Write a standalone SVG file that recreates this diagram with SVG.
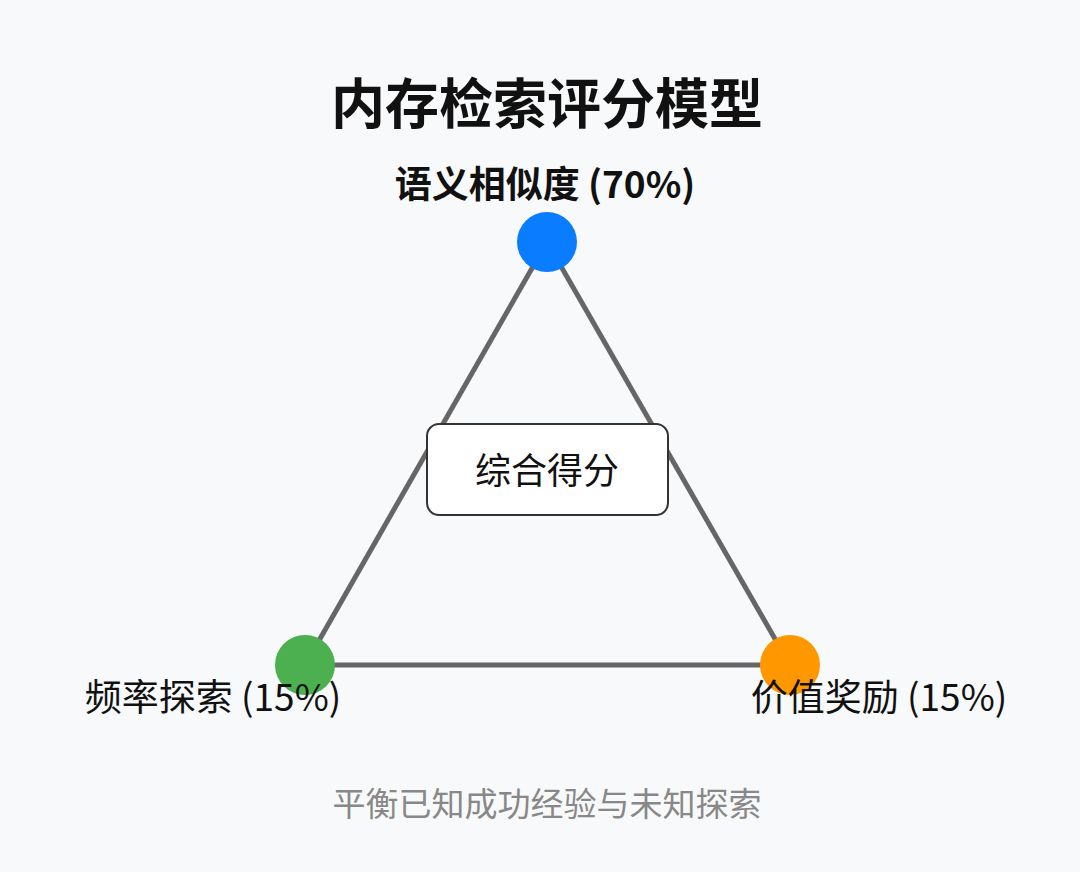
<svg xmlns="http://www.w3.org/2000/svg" width="1080" height="872" viewBox="0 0 1080 872">
  <style>
    .t { font-family: "Noto Sans CJK SC", "Noto Sans", sans-serif; text-anchor: middle; fill: #111; }
    .edge { stroke: #666; stroke-width: 5; fill: none; }
  </style>
  <rect width="1080" height="872" fill="#f8f9fa"/>
  <text class="t" x="547" y="124" font-size="54" font-weight="bold">内存检索评分模型</text>
  <g id="connectors">
    <line class="edge" x1="547" y1="242" x2="305" y2="665"/>
    <line class="edge" x1="547" y1="242" x2="790" y2="665"/>
    <line class="edge" x1="305" y1="665" x2="790" y2="665"/>
  </g>
  <g id="semantic">
    <circle cx="547" cy="242" r="30" fill="#0a7cff"/>
    <text class="t" x="545" y="198" font-size="37" font-weight="bold">语义相似度 (70%)</text>
  </g>
  <g id="frequency">
    <circle cx="305" cy="665" r="30" fill="#4caf50"/>
    <text class="t" x="213" y="711" font-size="37">频率探索 (15%)</text>
  </g>
  <g id="value">
    <circle cx="790" cy="665" r="30" fill="#ff9800"/>
    <text class="t" x="879" y="711" font-size="37">价值奖励 (15%)</text>
  </g>
  <g id="score">
    <rect x="427" y="424" width="241" height="91" rx="12" fill="#fff" stroke="#333" stroke-width="2"/>
    <text class="t" x="547" y="484" font-size="36">综合得分</text>
  </g>
  <text class="t" x="547" y="816" font-size="33" style="fill:#888">平衡已知成功经验与未知探索</text>
</svg>
